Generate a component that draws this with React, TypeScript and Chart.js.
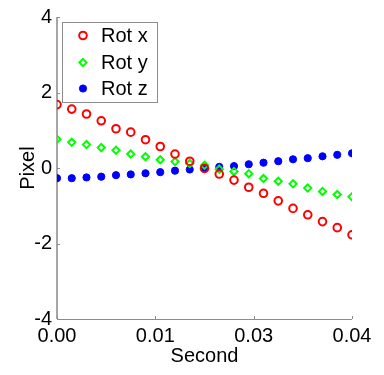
import React, { useEffect, useRef } from "react";
import { Chart, registerables } from "chart.js";

Chart.register(...registerables);

const seconds: number[] = [0, 0.002, 0.004, 0.006, 0.008, 0.01, 0.012, 0.014, 0.016, 0.018, 0.02, 0.022, 0.024, 0.026, 0.028, 0.03, 0.032, 0.034, 0.036, 0.038, 0.04];
const rotX: number[] = [1.68, 1.56, 1.43, 1.25, 1.04, 0.95, 0.75, 0.57, 0.37, 0.18, -0.01, -0.16, -0.32, -0.51, -0.67, -0.87, -1.07, -1.24, -1.42, -1.58, -1.77];
const rotY: number[] = [0.76, 0.68, 0.62, 0.54, 0.47, 0.37, 0.30, 0.22, 0.17, 0.12, 0.07, -0.03, -0.09, -0.15, -0.28, -0.35, -0.42, -0.53, -0.62, -0.70, -0.76];
const rotZ: number[] = [-0.27, -0.27, -0.25, -0.23, -0.19, -0.17, -0.14, -0.11, -0.07, -0.04, -0.02, 0.03, 0.05, 0.10, 0.14, 0.18, 0.23, 0.26, 0.31, 0.35, 0.39];
const seriesNames: string[] = ["Rot x", "Rot y", "Rot z"];
const xTicks: number[] = [0, 0.04 / 3, 0.08 / 3, 0.04];
const yTicks: number[] = [-4, -2, 0, 2, 4];

const FONT = "'Liberation Sans', Arial, sans-serif";

const axesPlugin = {
  id: "matlabAxes",
  beforeDatasetsDraw(chart: any) {
    const { ctx, chartArea, scales } = chart;
    const { left, right, top, bottom } = chartArea;
    ctx.save();
    ctx.strokeStyle = "#a6a6a6";
    ctx.lineWidth = 2;
    ctx.beginPath();
    ctx.moveTo(left, top);
    ctx.lineTo(left, bottom);
    ctx.stroke();
    ctx.strokeStyle = "#8c8c8c";
    ctx.lineWidth = 1;
    ctx.beginPath();
    ctx.moveTo(left, bottom + 0.5);
    ctx.lineTo(right, bottom + 0.5);
    ctx.stroke();
    ctx.beginPath();
    for (const t of xTicks) {
      const x = Math.round(scales.x.getPixelForValue(t)) + 0.5;
      ctx.moveTo(x, bottom);
      ctx.lineTo(x, bottom - 3);
    }
    for (const t of yTicks) {
      const y = Math.round(scales.y.getPixelForValue(t)) + 0.5;
      ctx.moveTo(left, y);
      ctx.lineTo(left + 3, y);
    }
    ctx.stroke();
    ctx.restore();
  },
};

const legendPlugin = {
  id: "insideLegend",
  afterDatasetsDraw(chart: any) {
    const { ctx, chartArea } = chart;
    const x0 = chartArea.left + 5;
    const y0 = chartArea.top + 4.5;
    const w = 95;
    const h = 80;
    ctx.save();
    ctx.fillStyle = "#ffffff";
    ctx.fillRect(x0, y0, w, h);
    ctx.strokeStyle = "#8c8c8c";
    ctx.lineWidth = 1;
    ctx.strokeRect(Math.round(x0) + 0.5, Math.round(y0) + 0.5, w, h);
    const rows = [14, 41, 67];
    chart.data.datasets.forEach((ds: any, i: number) => {
      const cy = y0 + rows[i];
      const cx = x0 + 21;
      ctx.lineWidth = ds.borderWidth;
      ctx.strokeStyle = ds.borderColor;
      ctx.fillStyle = ds.backgroundColor;
      const r = ds.pointRadius;
      ctx.beginPath();
      if (ds.pointStyle === "rectRot") {
        ctx.moveTo(cx, cy - r);
        ctx.lineTo(cx + r, cy);
        ctx.lineTo(cx, cy + r);
        ctx.lineTo(cx - r, cy);
        ctx.closePath();
      } else {
        ctx.arc(cx, cy, r, 0, Math.PI * 2);
      }
      ctx.fill();
      ctx.stroke();
      ctx.fillStyle = "#000000";
      ctx.font = `20px ${FONT}`;
      ctx.textBaseline = "middle";
      ctx.textAlign = "left";
      ctx.fillText(ds.label, x0 + 39, cy + 1);
    });
    ctx.restore();
  },
};

export default function App() {
  const ref = useRef<HTMLCanvasElement | null>(null);
  useEffect(() => {
    if (!ref.current) return;
    const mk = (vals: number[]) => vals.map((v, i) => ({ x: seconds[i], y: v }));
    const chart = new Chart(ref.current, {
      type: "scatter",
      data: {
        datasets: [
          {
            label: seriesNames[0],
            data: mk(rotX),
            pointStyle: "circle",
            pointRadius: 3.8,
            borderWidth: 2,
            borderColor: "#ff0000",
            backgroundColor: "rgba(255,255,255,0)",
          },
          {
            label: seriesNames[1],
            data: mk(rotY),
            pointStyle: "rectRot",
            pointRadius: 3.6,
            borderWidth: 2,
            borderColor: "#00ff00",
            backgroundColor: "rgba(255,255,255,0)",
          },
          {
            label: seriesNames[2],
            data: mk(rotZ),
            pointStyle: "circle",
            pointRadius: 3.6,
            borderWidth: 1,
            borderColor: "#0000ff",
            backgroundColor: "#0000ff",
          },
        ] as any,
      },
      options: {
        animation: false,
        responsive: true,
        maintainAspectRatio: false,
        layout: { padding: { top: 15, right: 32, left: 0, bottom: 0 } },
        plugins: { legend: { display: false }, tooltip: { enabled: false } },
        scales: {
          x: {
            type: "linear",
            min: 0,
            max: 0.04,
            grid: { display: false, drawTicks: false },
            border: { display: false },
            afterBuildTicks: (s: any) => {
              s.ticks = xTicks.map((v) => ({ value: v }));
            },
            afterFit: (s: any) => {
              s.height = 56;
            },
            ticks: {
              color: "#000",
              padding: 5,
              font: { family: FONT, size: 20 },
              maxRotation: 0,
              callback: (v: any) => Number(v).toFixed(2),
            },
            title: {
              display: true,
              text: "Second",
              color: "#000",
              font: { family: FONT, size: 20 },
              padding: { top: 0, bottom: 7 },
            },
          },
          y: {
            type: "linear",
            min: -4,
            max: 4,
            grid: { display: false, drawTicks: false },
            border: { display: false },
            afterBuildTicks: (s: any) => {
              s.ticks = yTicks.map((v) => ({ value: v }));
            },
            afterFit: (s: any) => {
              s.width = 57;
            },
            ticks: {
              color: "#000",
              padding: 5,
              font: { family: FONT, size: 20 },
              callback: (v: any) => String(v),
            },
            title: {
              display: true,
              text: "Pixel",
              color: "#000",
              font: { family: FONT, size: 20 },
              padding: { top: 16, bottom: 0 },
            },
          },
        },
      },
      plugins: [axesPlugin, legendPlugin],
    });
    return () => chart.destroy();
  }, []);
  return (
    <div style={{ position: "fixed", left: 0, top: 0, width: 384, height: 375, background: "#fff" }}>
      <canvas ref={ref} />
    </div>
  );
}
